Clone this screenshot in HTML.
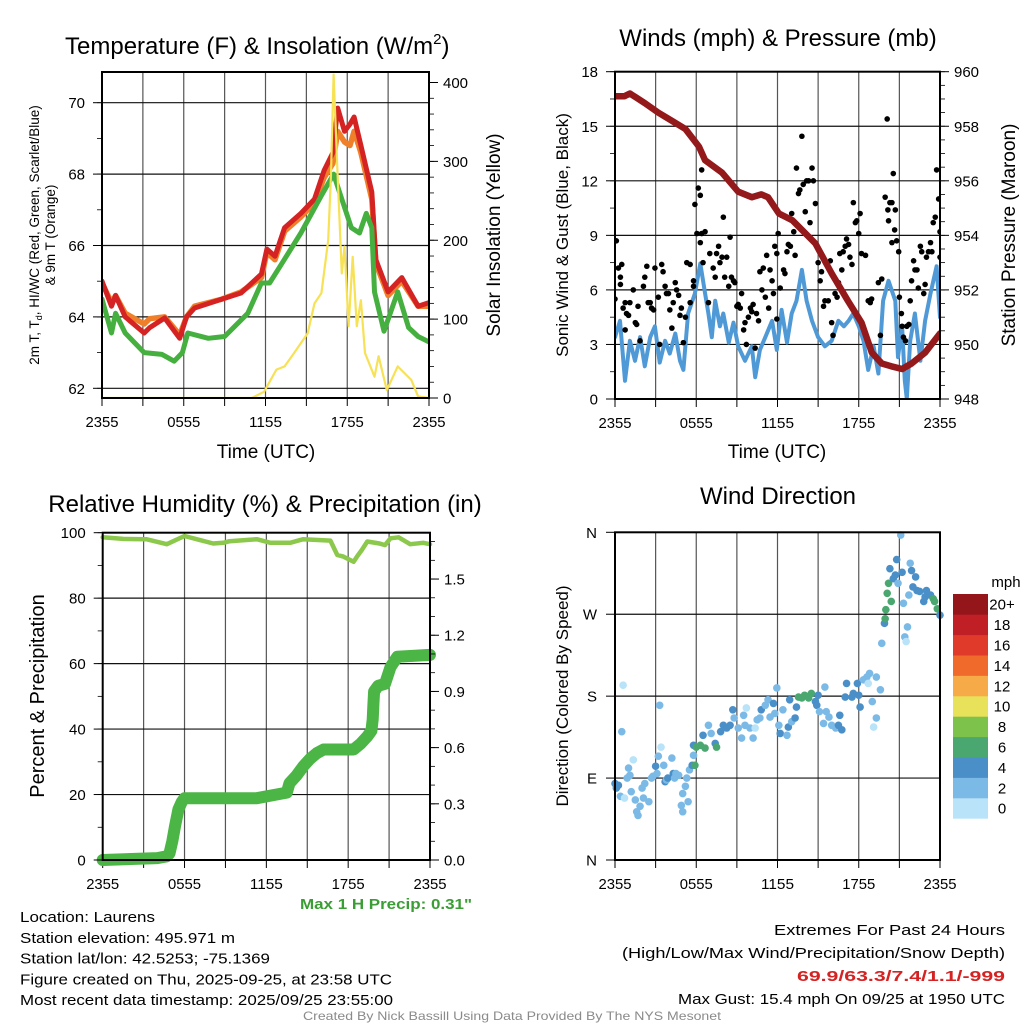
<!DOCTYPE html>
<html><head><meta charset="utf-8">
<style>
html,body{margin:0;padding:0;background:#fff;}
svg{display:block;font-family:"Liberation Sans",Arial,sans-serif;}
</style></head>
<body>
<svg id="fig" width="1024" height="1024" viewBox="0 0 1024 1024" xmlns="http://www.w3.org/2000/svg"></svg>
<script>
// ---------------- DATA ----------------
const tempHours = [0,0.7,1,1.7,3.1,3.5,4.6,5.7,6.2,6.8,8.8,10.2,11.7,12.1,12.7,13.4,14.6,15.6,16.3,16.95,17.3,17.8,18.2,18.5,19.0,19.8,20.1,21.0,22.0,23.2,24];
const tempRed = [65.0,64.3,64.6,64.0,63.55,63.7,63.97,63.4,64.0,64.25,64.5,64.67,65.2,65.9,65.7,66.5,66.9,67.3,68.1,68.6,69.85,69.2,69.4,69.6,68.8,67.5,65.6,64.7,65.1,64.3,64.4];
const temp9m = [64.95,64.4,64.6,64.1,63.8,63.95,64.0,63.5,64.0,64.3,64.5,64.7,65.1,65.8,65.6,66.4,66.8,67.2,67.9,68.3,69.2,68.9,68.8,69.2,68.6,67.3,65.5,64.6,65.0,64.3,64.3];
const dewHours = [0,0.7,1.0,1.7,3.1,4.4,5.3,5.9,6.3,7.8,9.0,10.7,11.7,12.3,13.2,14.6,16.1,17.0,17.6,18.3,18.9,19.4,19.8,20.0,20.7,21.7,22.5,23.2,24];
const dewpoint = [64.5,63.55,64.1,63.55,63.0,62.95,62.76,63.0,63.55,63.4,63.45,64.1,64.95,64.95,65.5,66.35,67.4,68.0,67.3,66.5,66.35,66.9,66.5,64.7,63.6,64.7,63.7,63.45,63.3];
const solarHours = [0,11.0,11.9,12.8,13.4,14.1,15.1,15.6,16.1,16.6,16.8,17.0,17.3,17.6,17.8,18.1,18.4,18.7,19.0,19.3,20.0,20.3,20.9,21.7,22.7,23.2,24];
const solar = [0,0,8,36,40,57,82,120,133,200,280,410,280,158,192,91,179,91,124,57,27,53,10,40,23,2,0];
const tempTicks = [62,64,66,68,70];
const solarTicks = [0,100,200,300,400];
const timeTickLabels = ["2355","0555","1155","1755","2355"];
const timeTickHours = [0,6,12,18,24];

const windHours = [0,0.37,0.74,1.1,1.48,1.85,2.2,2.6,2.95,3.3,3.7,4.05,4.45,4.8,5.05,5.4,5.9,6.3,6.65,6.9,7.15,7.4,7.75,8.0,8.4,8.75,9.1,9.6,10.1,10.35,10.7,11.1,11.6,11.95,12.3,12.7,13.05,13.4,13.8,14.15,14.55,15.0,15.5,16.0,16.5,16.9,17.25,17.6,18.0,18.35,18.7,19.1,19.45,19.8,20.2,20.7,20.9,21.2,21.4,21.55,21.8,22.15,22.55,22.9,23.3,23.75,24];
const windSpeed = [3.4,4.3,1.0,3.2,2.1,3.4,1.8,3.4,4.0,2.0,3.2,2.5,3.6,2.1,1.6,4.7,5.8,7.45,5.8,4.7,3.4,5.4,4.0,4.7,3.1,4.2,2.9,2.1,2.9,1.2,2.7,3.4,4.3,2.7,4.9,3.1,4.7,5.4,7.1,5.4,4.3,3.4,2.9,3.2,4.3,4.0,4.3,4.7,4.0,3.2,1.6,2.9,1.4,5.4,6.5,5.4,2.3,4.0,1.0,0,3.2,4.7,2.1,4.3,5.8,7.3,4.5];
const gustHours = [0.1,0,0.25,0.4,0.5,0.4,0.6,0.75,0.85,1.0,1.1,0.75,1.35,1.5,1.6,1.7,1.85,2.1,2.2,2.35,2.45,2.6,2.7,2.85,2.95,3.2,3.3,3.45,3.55,3.7,3.8,3.95,4.05,4.2,4.3,4.45,4.55,4.7,4.8,4.9,5.05,5.2,5.3,5.55,5.55,5.8,5.8,5.9,6.05,6.15,6.3,6.3,6.4,6.5,6.65,6.4,6.9,7.0,7.25,7.4,7.5,7.65,7.75,7.9,8.0,8.1,8.25,8.4,8.5,8.6,8.75,8.85,9.0,9.1,9.25,9.35,9.5,9.6,9.7,9.85,10.0,10.1,10.2,10.35,10.45,10.6,10.7,10.85,10.95,11.1,11.2,11.35,11.45,11.6,11.7,11.8,11.95,12.05,11.95,12.2,12.3,12.45,12.55,12.7,12.8,12.95,13.05,13.2,13.3,13.4,13.55,13.65,13.8,13.9,14.05,14.15,14.3,14.4,14.55,14.65,14.8,14.9,15.0,15.15,15.25,15.4,15.5,15.75,15.9,16.0,16.1,16.25,16.4,16.5,16.6,16.75,16.85,17.0,17.1,17.25,17.35,17.5,17.6,17.75,17.85,18.0,18.1,18.2,18.5,18.7,18.85,18.95,19.45,19.6,19.7,19.95,20.1,20.15,20.2,20.3,20.45,20.45,20.55,20.65,20.7,20.8,20.95,21.0,21.15,21.2,21.3,21.45,21.55,21.7,21.8,21.9,22.05,22.15,22.3,22.4,22.55,22.65,22.8,22.9,23.0,23.15,23.3,23.4,23.5,23.65,23.75,23.9,24.0,24.0];
const gustSpeed = [8.7,5.5,7.2,6.7,7.4,6.3,5.0,5.3,4.7,4.6,5.3,3.8,6.0,4.2,4.1,5.1,3.2,6.2,6.7,7.3,5.3,5.3,5.0,4.9,7.2,5.6,3.0,7.4,7.0,6.2,5.8,5.8,4.9,3.9,5.3,6.4,6.0,5.7,4.6,5.0,3.1,4.5,7.5,7.4,5.3,6.5,6.2,10.7,9.1,11.6,11.2,8.6,9.1,7.5,9.2,12.6,5.3,8.0,7.2,6.7,8.0,8.4,7.5,7.8,10.0,6.7,7.8,6.2,8.9,6.7,6.5,6.4,5.1,5.2,5.0,5.8,3.8,4.2,3.0,4.5,5.0,4.8,5.2,2.8,4.7,4.3,7.0,6.0,7.2,5.6,7.9,5.0,7.1,6.5,5.8,8.4,8.0,9.1,4.4,6.1,10.1,7.1,6.9,8.1,8.5,8.4,10.2,9.2,7.9,12.7,11.3,11.5,14.45,11.8,10.3,12.0,12.0,9.7,12.7,12.0,10.75,8.4,7.5,6.5,7.0,5.1,5.4,5.4,7.6,4.2,3.5,5.8,5.6,6.4,8.0,7.1,8.1,8.4,8.8,8.5,7.8,7.4,10.8,9.7,9.8,9.1,10.2,8.0,7.9,5.4,5.3,5.5,6.4,3.5,6.6,11.1,15.4,10.4,9.8,10.8,10.8,8.6,12.4,9.3,10.4,8.7,8.1,5.6,4.7,4.0,3.4,3.2,4.0,4.1,5.4,6.5,7.6,7.1,7.1,6.1,8.4,8.1,5.8,6.3,7.8,8.1,8.6,8.1,9.7,10.0,12.6,11.0,9.2,7.8];
const presHours = [0,0.7,1.1,2.2,3.2,4.2,5.2,6.2,6.65,7.9,9.1,10.1,10.8,11.3,12.1,13.1,14.0,14.8,16.0,17.2,18.2,18.96,19.7,20.4,21.2,21.9,22.9,24];
const pressure = [959.1,959.1,959.2,958.85,958.5,958.2,957.9,957.25,956.75,956.3,955.6,955.4,955.5,955.4,954.8,954.55,954.1,953.7,952.6,951.6,950.8,949.7,949.3,949.2,949.1,949.3,949.7,950.4];
const windTicks = [0,3,6,9,12,15,18];
const presTicks = [948,950,952,954,956,958,960];

const rhHours = [0,1.5,3.2,4.7,6.0,7.1,8.1,8.85,9.3,11.3,12.3,13.75,14.7,16.7,17.2,17.65,18.4,18.65,19.0,19.4,20.3,20.7,21.1,21.7,22.55,23.5,24];
const rh = [98.6,98.1,98.0,96.5,99.0,97.8,96.7,96.9,97.4,98.0,96.9,96.9,98.0,97.6,93.2,92.7,91.1,92.7,94.7,97.3,96.7,96.2,98.3,98.6,96.5,96.9,96.5];
const precipHours = [0,4.0,4.7,4.9,5.1,5.3,5.55,5.8,6.0,11.3,12.8,13.5,13.7,14.2,14.7,15.2,15.7,16.2,18.4,18.9,19.4,19.7,19.8,19.85,19.9,20.2,20.7,21.1,21.6,24];
const precip = [0.0,0.01,0.02,0.035,0.1,0.18,0.27,0.31,0.33,0.33,0.35,0.36,0.41,0.45,0.5,0.54,0.57,0.59,0.59,0.62,0.66,0.69,0.75,0.83,0.9,0.93,0.94,1.03,1.085,1.095];
const rhTicks = [0,20,40,60,80,100];
const precipTicks = [0.0,0.3,0.6,0.9,1.2,1.5];
const precipTickLabels = ["0.0","0.3","0.6","0.9","1.2","1.5"];

const dirHours = [0,0.1,0.25,0.4,0.6,0.5,0.7,0.9,1.0,1.1,1.35,1.2,1.5,1.6,1.7,1.85,2.0,2.1,2.2,2.5,2.7,2.8,3.0,3.1,3.2,3.3,3.4,3.6,3.7,3.8,3.9,4.2,4.3,4.4,4.5,4.7,4.9,5.0,5.2,5.3,5.4,5.0,5.5,5.7,5.8,5.8,5.9,6.0,6.3,6.5,6.65,6.9,7.1,7.4,7.5,7.8,8.0,8.25,8.5,8.7,8.8,9.1,9.35,9.5,9.6,9.7,9.97,10.2,10.35,10.5,10.7,10.8,11.1,11.3,11.45,11.7,11.8,11.95,12.1,12.2,12.4,12.7,12.8,12.9,13.05,13.3,13.4,13.55,13.8,14.0,14.3,14.5,14.8,14.9,15.0,15.1,15.4,15.5,15.6,15.8,16.0,16.3,16.5,16.6,16.75,17.0,17.1,17.5,17.6,17.9,18.0,18.1,18.35,18.6,18.7,18.8,19.0,19.1,19.3,19.3,19.6,19.7,19.9,19.95,20.0,20.1,20.2,20.3,20.4,20.55,20.7,20.8,20.9,21.1,21.2,21.3,21.4,21.5,21.6,21.7,21.8,21.9,22.0,22.2,22.3,22.5,22.8,22.9,23.0,23.3,23.5,23.6,23.8,24.0];
const dirDeg = [84,79,82,70,192,141,68,90,101,93,110,75,66,53,49,59,79,68,84,64,90,92,103,95,114,170,124,104,86,88,90,112,95,90,95,93,60,73,81,90,64,53,99,104,115,126,104,124,126,137,123,148,139,128,124,141,148,145,148,165,156,145,134,159,148,167,145,134,145,154,156,165,170,176,157,172,161,189,148,139,165,137,146,176,152,156,168,179,178,181,178,183,174,170,181,163,150,190,163,157,148,145,148,159,143,179,194,179,183,194,181,168,198,201,194,205,174,146,156,201,187,238,260,265,275,293,304,320,284,309,313,330,304,357,316,282,245,240,256,291,326,318,300,311,296,295,284,289,296,291,287,284,276,269];
const dirSpeed = [5,5,5,3,1,3,1,3,3,3,1,3,3,3,3,3,3,3,3,3,3,3,5,3,3,3,1,3,5,3,5,3,5,3,3,3,3,3,3,3,3,3,3,5,3,5,7,7,7,5,7,3,3,5,7,5,5,5,5,5,3,3,3,3,3,1,3,3,1,3,3,5,3,3,3,5,3,3,3,5,3,3,5,5,3,5,5,7,7,7,7,7,5,5,5,3,3,3,3,3,3,3,5,5,5,5,5,5,5,5,5,5,3,3,1,3,3,1,3,3,3,3,5,7,7,7,7,5,7,5,5,5,3,3,5,3,3,1,3,3,3,5,5,5,5,5,5,5,5,5,7,7,7,5];
const dirTickDeg = [0,90,180,270,360];
const dirTickLabels = ["N","E","S","W","N"];
const cbarLabels = ["0","2","4","6","8","10","12","14","16","18","20+"];
const cbarColors = ["#b8e3f8","#7bbae6","#4a8fc8","#4aa76f","#7cc24b","#e8e25a","#f7aa48","#f06a2c","#e03a2a","#c11f26","#94151a"];

// ---------------- DRAWING ----------------
const NS = "http://www.w3.org/2000/svg";
const svg = document.getElementById("fig");
function mk(tag, attrs, parent) {
  const e = document.createElementNS(NS, tag);
  for (const k in attrs) e.setAttribute(k, attrs[k]);
  (parent || svg).appendChild(e);
  return e;
}
function txt(s, x, y, size, anchor, parent, extra) {
  const a = {x: x, y: y, "font-size": size, "text-anchor": anchor || "start", fill: "#000"};
  if (extra) for (const k in extra) a[k] = extra[k];
  const t = mk("text", a, parent);
  t.textContent = s;
  return t;
}
function lin(d0, d1, r0, r1) { return v => r0 + (v - d0) * (r1 - r0) / (d1 - d0); }

function framePanel(name, box, vgridHours, hgridVals, ys, xs) {
  const g = mk("g", {});
  
  
  const grid = mk("g", {}, g);
  
  
  vgridHours.forEach(h => {
    const x = xs(h);
    const l = mk("line", {x1: x, x2: x, y1: box.y0, y2: box.y1, stroke: "#555", "stroke-width": 1.2}, grid);
    
    
  });
  hgridVals.forEach(v => {
    const y = ys(v);
    const l = mk("line", {x1: box.x0, x2: box.x1, y1: y, y2: y, stroke: "#111", "stroke-width": 1.2}, grid);
    
    
  });
  const xt = mk("g", {}, g);
  
  
  for (let h = 0; h <= 24; h += 3) {
    const x = xs(h);
    mk("line", {x1: x, x2: x, y1: box.y1, y2: box.y1 + 8, stroke: "#000", "stroke-width": 1}, xt);
  }
  timeTickHours.forEach((h, i) => {
    const t = txt(timeTickLabels[i], xs(h), box.y1 + 29, 15, "middle", xt, {textLength: 33, lengthAdjust: "spacingAndGlyphs"});
    
    
  });
  return g;
}
function border(g, box) {
  const r = mk("rect", {x: box.x0, y: box.y0, width: box.x1 - box.x0, height: box.y1 - box.y0, fill: "none", stroke: "#000", "stroke-width": 2}, g);
  
  
}
function yAxis(g, name, box, side, ticks, labels, ys, minorStep, minorFrom, minorTo) {
  const a = mk("g", {}, g);
  
  
  const x = side === "left" ? box.x0 : box.x1;
  const dir = side === "left" ? -1 : 1;
  if (minorStep) {
    for (let v = minorFrom; v <= minorTo + 1e-9; v += minorStep) {
      const y = ys(v);
      if (y < box.y0 - 0.5 || y > box.y1 + 0.5) continue;
      mk("line", {x1: x, x2: x + dir * 5, y1: y, y2: y, stroke: "#000", "stroke-width": 0.8}, a);
    }
  }
  ticks.forEach((v, i) => {
    const y = ys(v);
    mk("line", {x1: x, x2: x + dir * 9, y1: y, y2: y, stroke: "#000", "stroke-width": 1}, a);
    const t = txt(labels[i], side === "left" ? x - 17 : x + 14, y + 5.5, 15, side === "left" ? "end" : "start", a);
    
    
  });
}
function rotTitle(s, x, y, size, name, parent) {
  const t = txt(s, 0, 0, size, "middle", parent, {transform: "translate(" + x + "," + y + ") rotate(-90)"});
  
  
  return t;
}
function polyline(parent, hours, vals, xs, ys, color, w, name) {
  const pts = hours.map((h, i) => xs(h).toFixed(1) + "," + ys(vals[i]).toFixed(1)).join(" ");
  const p = mk("polyline", {points: pts, fill: "none", stroke: color, "stroke-width": w, "stroke-linejoin": "round", "stroke-linecap": "round"}, parent);
  
  
  return p;
}

// ===== Panel 1 =====
const b1 = {x0: 102, x1: 429, y0: 72, y1: 398};
const x1s = lin(0, 24, b1.x0, b1.x1);
const t1s = lin(62, 70, 388.3, 102.7);
const s1s = lin(0, 400, 398, 82.5);
const g1 = framePanel("temperature-panel", b1, [3,6,9,12,15,18,21], tempTicks, t1s, x1s);
const clip1 = mk("clipPath", {id: "c1"}); mk("rect", {x: b1.x0, y: b1.y0, width: b1.x1 - b1.x0, height: b1.y1 - b1.y0}, clip1);
const d1 = mk("g", {"clip-path": "url(#c1)"}, g1);
polyline(d1, tempHours, temp9m, x1s, t1s, "#f07f2a", 5.5, "9m-temperature-line");
polyline(d1, tempHours, tempRed, x1s, t1s, "#d42322", 5, "2m-temperature-line");
polyline(d1, dewHours, dewpoint, x1s, t1s, "#45b03f", 5, "dewpoint-line");
polyline(d1, solarHours, solar, x1s, s1s, "#f7e154", 2.2, "solar-insolation-line");
border(g1, b1);
yAxis(g1, "temperature-y-axis", b1, "left", tempTicks, tempTicks.map(String), t1s, 1, 62, 70);
yAxis(g1, "solar-y-axis", b1, "right", solarTicks, solarTicks.map(String), s1s, 20, 0, 400);
{
  const t = txt("Temperature (F) & Insolation (W/m", 65, 54, 24, "start", g1);
  
  
  const ts = mk("tspan", {"font-size": 15, dy: -10}, t); ts.textContent = "2";
  const tc = mk("tspan", {dy: 10}, t); tc.textContent = ")";
  const xt = txt("Time (UTC)", 266, 458, 19, "middle", g1);
  
  
  const yt = txt("", 0, 0, 13.5, "middle", g1, {transform: "translate(39,235) rotate(-90)"});
  
  
  const a1 = mk("tspan", {}, yt); a1.textContent = "2m T, T";
  const a2 = mk("tspan", {"font-size": 9, dy: 3}, yt); a2.textContent = "d";
  const a3 = mk("tspan", {dy: -3}, yt); a3.textContent = ", HI/WC (Red, Green, Scarlet/Blue)";
  const yt2 = txt("& 9m T (Orange)", 0, 0, 13.5, "middle", g1, {transform: "translate(55,235) rotate(-90)"});
  
  
  rotTitle("Solar Insolation (Yellow)", 500, 235, 19, "solar-y-axis-title", g1);
}

// ===== Panel 2 =====
const b2 = {x0: 615, x1: 940, y0: 71.7, y1: 399};
const x2s = lin(0, 24, b2.x0, b2.x1);
const w2s = lin(0, 18, 399, 71.7);
const p2s = lin(948, 960, 399, 71.7);
const g2 = framePanel("winds-panel", b2, [3,6,9,12,15,18,21], windTicks, w2s, x2s);
const clip2 = mk("clipPath", {id: "c2"}); mk("rect", {x: b2.x0, y: b2.y0, width: b2.x1 - b2.x0, height: b2.y1 - b2.y0}, clip2);
const d2 = mk("g", {"clip-path": "url(#c2)"}, g2);
polyline(d2, windHours, windSpeed, x2s, w2s, "#4f9ad6", 4, "sonic-wind-line");
const gustG = mk("g", {}, d2);


gustHours.forEach((h, i) => {
  const c = mk("circle", {cx: x2s(h), cy: w2s(gustSpeed[i]), r: 2.8, fill: "#000"}, gustG);
  
  
});
polyline(d2, presHours, pressure, x2s, p2s, "#93191b", 6.5, "pressure-line");
border(g2, b2);
yAxis(g2, "wind-y-axis", b2, "left", windTicks, windTicks.map(String), w2s, 1.5, 0, 18);
yAxis(g2, "pressure-y-axis", b2, "right", presTicks, presTicks.map(String), p2s, 0.5, 948, 960);
{
  const t = txt("Winds (mph) & Pressure (mb)", 778, 46, 24, "middle", g2);
  
  
  const xt = txt("Time (UTC)", 777, 458, 19, "middle", g2);
  
  
  rotTitle("Sonic Wind & Gust (Blue, Black)", 568, 235, 17, "wind-y-axis-title", g2);
  rotTitle("Station Pressure (Maroon)", 1015, 235, 19, "pressure-y-axis-title", g2);
}

// ===== Panel 3 =====
const b3 = {x0: 102.7, x1: 430, y0: 532.7, y1: 860};
const x3s = lin(0, 24, b3.x0, b3.x1);
const r3s = lin(0, 100, 860, 532.7);
const q3s = lin(0, 1, 860, 672.7);
const g3 = framePanel("humidity-panel", b3, [3,6,9,12,15,18,21], [20,40,60,80], r3s, x3s);
const clip3 = mk("clipPath", {id: "c3"}); mk("rect", {x: b3.x0 - 8, y: b3.y0, width: b3.x1 - b3.x0 + 16, height: b3.y1 - b3.y0 + 8}, clip3);
const d3 = mk("g", {"clip-path": "url(#c3)"}, g3);
polyline(d3, rhHours, rh, x3s, r3s, "#8cc84b", 4.5, "relative-humidity-line");
polyline(d3, precipHours, precip, x3s, q3s, "#4bb545", 12, "precipitation-line");
border(g3, b3);
yAxis(g3, "humidity-y-axis", b3, "left", rhTicks, rhTicks.map(String), r3s, 10, 0, 100);
yAxis(g3, "precipitation-y-axis", b3, "right", precipTicks, precipTickLabels, q3s, 0.1, 0, 1.7);
{
  const t = txt("Relative Humidity (%) & Precipitation (in)", 265, 512, 24, "middle", g3);
  
  
  rotTitle("Percent & Precipitation", 44, 696, 20, "humidity-y-axis-title", g3);
  const m = txt("Max 1 H Precip: 0.31\"", 472, 909, 15, "end", g3, {"font-weight": "bold", fill: "#3a9e34", textLength: 172, lengthAdjust: "spacingAndGlyphs"});
  
  
}

// ===== Panel 4 =====
const b4 = {x0: 615, x1: 940, y0: 532.3, y1: 860};
const x4s = lin(0, 24, b4.x0, b4.x1);
const a4s = lin(0, 360, 860, 532.3);
const g4 = framePanel("wind-direction-panel", b4, [3,6,9,12,15,18,21], [90,180,270], a4s, x4s);
function spdColor(s) { return cbarColors[Math.max(0, Math.min(10, Math.floor(s / 2)))]; }
const dirG = mk("g", {}, g4);


dirHours.forEach((h, i) => {
  const c = mk("circle", {cx: x4s(h), cy: a4s(dirDeg[i]), r: 3.8, fill: spdColor(dirSpeed[i])}, dirG);
  
  
});
border(g4, b4);
{
  const ax = mk("g", {}, g4);
  
  
  dirTickDeg.forEach((d, i) => {
    const y = a4s(d);
    mk("line", {x1: b4.x0, x2: b4.x0 - 9, y1: y, y2: y, stroke: "#000", "stroke-width": 1}, ax);
    const t = txt(dirTickLabels[i], b4.x0 - 18, y + 5.5, 15, "end", ax);
    
    
  });
  const t = txt("Wind Direction", 778, 504, 24, "middle", g4);
  
  
  rotTitle("Direction (Colored By Speed)", 568, 696, 17, "direction-y-axis-title", g4);
  const cb = mk("g", {}, g4);
  
  
  const top = 594, bh = 20.4;
  cbarColors.forEach((c, i) => {
    const y = top + (10 - i) * bh;
    const r = mk("rect", {x: 953, y: y, width: 35, height: bh + 0.3, fill: c}, cb);
    
    
    const t = txt(cbarLabels[i], 1002, y + bh / 2 + 5.5, 15, "middle", cb);
    
    
  });
  const u = txt("mph", 1006, 587, 15, "middle", cb);
  
  
}

// ===== Footer text =====
const foot = mk("g", {});


const leftLines = [["Location: Laurens", 135], ["Station elevation: 495.971 m", 215], ["Station lat/lon: 42.5253; -75.1369", 250], ["Figure created on Thu, 2025-09-25, at 23:58 UTC", 372], ["Most recent data timestamp: 2025/09/25 23:55:00", 373]];
leftLines.forEach((l, i) => {
  const t = txt(l[0], 20, 922 + i * 20.8, 15, "start", foot, {textLength: l[1], lengthAdjust: "spacingAndGlyphs"});
  
  
});
const rightLines = [["Extremes For Past 24 Hours", 231, 935, "#000", "normal"], ["(High/Low/Max Wind/Precipitation/Snow Depth)", 383, 958, "#000", "normal"], ["69.9/63.3/7.4/1.1/-999", 208, 981, "#d42322", "bold"], ["Max Gust: 15.4 mph On 09/25 at 1950 UTC", 327, 1004, "#000", "normal"]];
rightLines.forEach(l => {
  const t = txt(l[0], 1005, l[2], 15, "end", foot, {textLength: l[1], lengthAdjust: "spacingAndGlyphs", fill: l[3], "font-weight": l[4]});
  
  
});
{
  const t = txt("Created By Nick Bassill Using Data Provided By The NYS Mesonet", 512, 1020, 12, "middle", foot, {fill: "#8a8a8a", textLength: 418, lengthAdjust: "spacingAndGlyphs"});
  
  
}
</script>
</body></html>
